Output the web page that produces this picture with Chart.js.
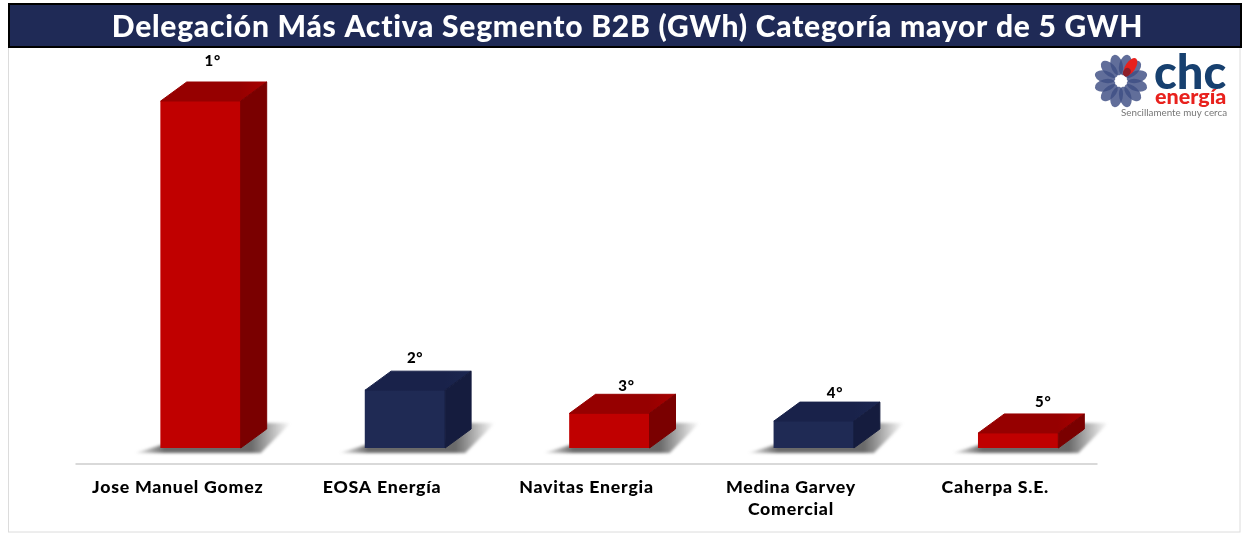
<!DOCTYPE html>
<html><head><meta charset="utf-8">
<style>html,body{margin:0;padding:0;background:#fff;overflow:hidden}#w{position:absolute;left:0;top:0;width:1255px;height:542px}</style>
<script src="https://cdn.jsdelivr.net/npm/chart.js@4"></script>
</head><body><div id="w"><canvas id="c"></canvas></div>
<script>
const titleText = "Delegación Más Activa Segmento B2B (GWh) Categoría mayor de 5 GWH";
const categories = ["Jose Manuel Gomez","EOSA Energía","Navitas Energia",["Medina Garvey","Comercial"],"Caherpa S.E."];
const valuesGWh = [120, 20, 12, 9.3, 5.2];
const ranks = ["1°","2°","3°","4°","5°"];
const frontColors = ["#C00000","#1F2A54","#C00000","#1F2A54","#C00000"];
const topColors = ["#960000","#19224A","#960000","#19224A","#960000"];
const topLightColors = ["#A80000","#1B2650","#A80000","#1B2650","#A80000"];
const sideColors = ["#7A0000","#151C3E","#7A0000","#151C3E","#7A0000"];
const rankNudgeX = [12, 10, 17, 21, 25];
const rankNudgeY = [40, 32, 27, 28, 31];

const FONT = '"Lato", sans-serif';
const DX = 26, DY = 19;

const scene = {
  id: 'scene',
  beforeDraw(chart) {
    const ctx = chart.ctx;
    ctx.save();
    ctx.fillStyle = '#fff'; ctx.fillRect(0,0,1255,542);
    ctx.strokeStyle = '#DCDCDC'; ctx.lineWidth = 1;
    ctx.strokeRect(8.5,46.5,1231.5,485.5);
    ctx.fillStyle = '#1F2A56'; ctx.fillRect(9,4,1232,43);
    ctx.strokeStyle = '#000'; ctx.lineWidth = 2;
    ctx.strokeRect(9,4,1232,43);
    // logo
    const cx = 1121, cy = 81;
    for (let i = 0; i < 12; i++) {
      const a = i * Math.PI / 6 + Math.PI / 12;
      ctx.save(); ctx.translate(cx,cy); ctx.rotate(a);
      ctx.fillStyle = 'rgba(62,78,132,0.82)';
      ctx.beginPath(); ctx.ellipse(16.5,0,10.5,6,0,0,Math.PI*2); ctx.fill();
      ctx.restore();
    }
    ctx.save(); ctx.translate(cx,cy); ctx.rotate(-Math.PI/3.2);
    ctx.fillStyle = '#E8211D';
    ctx.beginPath(); ctx.ellipse(17,0,10,5,0,0,Math.PI*2); ctx.fill();
    ctx.fillStyle = '#8E1F2A';
    ctx.beginPath(); ctx.ellipse(10.5,0,4.5,3.5,0,0,Math.PI*2); ctx.fill(); ctx.restore();
    ctx.fillStyle = '#fff'; ctx.beginPath(); ctx.arc(cx,cy,5,0,Math.PI*2); ctx.fill();
    ctx.textAlign='left'; ctx.textBaseline='alphabetic';
    ctx.fillStyle='#17406F'; ctx.font='900 47px '+FONT; ctx.fillText('chc',1154,89);
    ctx.fillStyle='#E8211D'; ctx.font='900 21.5px '+FONT; ctx.fillText('energía',1155,104);
    ctx.fillStyle='#777'; ctx.font='9.8px '+FONT; ctx.fillText('Sencillamente muy cerca',1121,116);
    ctx.restore();
    ctx.letterSpacing = '0.75px';
  },
  beforeDatasetsDraw(chart) {
    const ctx = chart.ctx, bars = chart.getDatasetMeta(0).data;
    const a = chart.chartArea;
    ctx.save();
    ctx.strokeStyle='#D9D9D9'; ctx.lineWidth=2;
    ctx.beginPath(); ctx.moveTo(a.left-23,464); ctx.lineTo(a.right-23,464); ctx.stroke();
    bars.forEach(b => {
      const l=b.x-b.width/2, r=b.x+b.width/2, y=b.base;
      const g=ctx.createLinearGradient(l-28,0,r+50,0);
      g.addColorStop(0,'rgba(80,80,80,0)');
      g.addColorStop(0.2,'rgba(80,80,80,0.85)');
      g.addColorStop(0.75,'rgba(80,80,80,0.85)');
      g.addColorStop(1,'rgba(80,80,80,0)');
      ctx.save(); ctx.filter='blur(1.5px)'; ctx.fillStyle=g;
      ctx.beginPath();
      ctx.moveTo(l-26,y+5); ctx.lineTo(r+20,y+5); ctx.lineTo(r+50,y-25); ctx.lineTo(r+DX-4,y-25);
      ctx.lineTo(r-4,y-4); ctx.lineTo(l+4,y-4); ctx.closePath(); ctx.fill();
      ctx.restore();
    });
    ctx.restore();
  },
  afterDatasetsDraw(chart) {
    const ctx = chart.ctx, bars = chart.getDatasetMeta(0).data;
    ctx.save();
    bars.forEach((b,i) => {
      const l=b.x-b.width/2, r=b.x+b.width/2, t=b.y, y=b.base;
      ctx.lineJoin='round'; ctx.lineWidth=1;
      const g=ctx.createLinearGradient(l,0,r+DX,0);
      g.addColorStop(0,topColors[i]); g.addColorStop(.75,topColors[i]); g.addColorStop(1,topLightColors[i]);
      ctx.fillStyle=g; ctx.strokeStyle=g;
      ctx.beginPath(); ctx.moveTo(l,t); ctx.lineTo(l+DX,t-DY); ctx.lineTo(r+DX,t-DY); ctx.lineTo(r,t); ctx.closePath(); ctx.fill(); ctx.stroke();
      ctx.fillStyle=sideColors[i]; ctx.strokeStyle=sideColors[i];
      ctx.beginPath(); ctx.moveTo(r,t); ctx.lineTo(r+DX,t-DY); ctx.lineTo(r+DX,y-DY); ctx.lineTo(r,y); ctx.closePath(); ctx.fill(); ctx.stroke();
      ctx.fillStyle='#000'; ctx.font='900 15px '+FONT; ctx.textAlign='center'; ctx.textBaseline='middle';
      ctx.fillText(ranks[i], b.x+rankNudgeX[i], t-rankNudgeY[i]);
    });
    ctx.restore();
  }
};

new Chart(document.getElementById('c'), {
  type:'bar',
  data:{labels:categories,datasets:[{data:valuesGWh,backgroundColor:frontColors,barThickness:80,borderWidth:0}]},
  plugins:[scene],
  options:{
    responsive:true,maintainAspectRatio:false,animation:false,
    layout:{padding:0},
    plugins:{
      legend:{display:false},tooltip:{enabled:false},
      title:{display:true,text:titleText,color:'#fff',font:{family:FONT,size:30,weight:'900',lineHeight:1.2},padding:{top:9,bottom:56}}
    },
    scales:{
      x:{grid:{display:false},border:{display:false},
        ticks:{color:'#000',font:{family:FONT,size:17.7,weight:'900',lineHeight:1.2},padding:21,labelOffset:-23,maxRotation:0,autoSkip:false},
        afterFit(s){s.height=94;}},
      y:{min:0,max:120,grid:{display:false},border:{display:false},ticks:{display:false},afterFit(s){s.width=98.5;}},
      y2:{position:'right',min:0,max:120,grid:{display:false},border:{display:false},ticks:{display:false},afterFit(s){s.width=134.5;}}
    }
  }
});
</script></body></html>
